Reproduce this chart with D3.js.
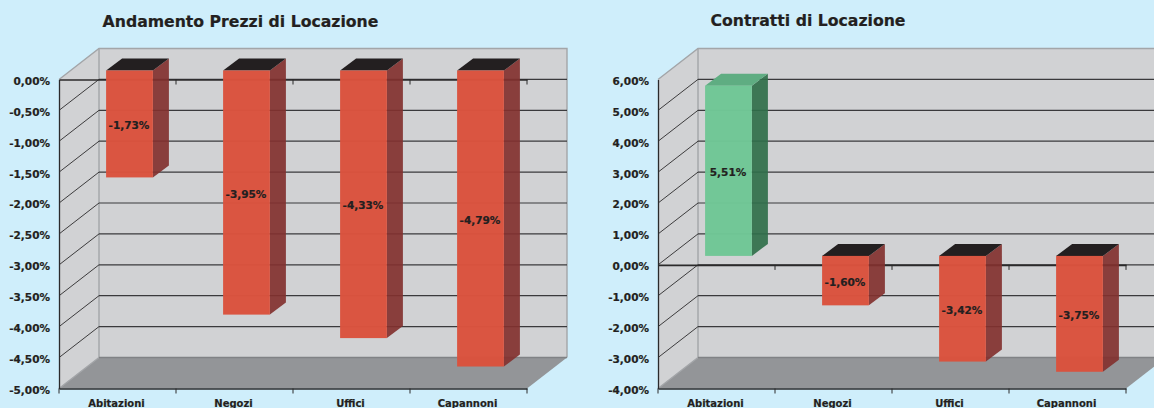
<!DOCTYPE html>
<html>
<head>
<meta charset="utf-8">
<script src="https://cdnjs.cloudflare.com/ajax/libs/d3/7.8.5/d3.min.js"></script>
<style>
html,body{margin:0;padding:0;background:#CFEEFB;overflow:hidden}
svg{display:block}
text{font-family:"DejaVu Sans",sans-serif;font-weight:bold;fill:#231F20;stroke:#231F20;stroke-width:0.2px}
</style>
</head>
<body>
<svg id="c" width="1154" height="408"></svg>
<script>
const categories = ["Abitazioni", "Negozi", "Uffici", "Capannoni"];
const titleLeft = "Andamento Prezzi di Locazione";
const valuesLeft = [-1.73, -3.95, -4.33, -4.79];
const ticksLeft = [0, -0.5, -1, -1.5, -2, -2.5, -3, -3.5, -4, -4.5, -5];
const titleRight = "Contratti di Locazione";
const valuesRight = [5.51, -1.60, -3.42, -3.75];
const ticksRight = [6, 5, 4, 3, 2, 1, 0, -1, -2, -3, -4];

const svg = d3.select("#c");
const fmt = v => v.toFixed(2).replace(".", ",") + "%";
const C = {wall:"#D1D2D4", floor:"#939598", edge:"#A3A5A8", line:"#2B2A2B",
  redF:"#D9523E", redS:"#82312F", redT:"#231F20",
  grnF:"#70C695", grnS:"#306F4A", grnT:"#5FAD82"};

function chart(o){
  const g = svg.append("g");
  const DX = 40, DY = -31, BX = 12, BY = -9, SX = 16, SY = -12;
  const y = d3.scaleLinear().domain([o.ticks[0], o.ticks[o.ticks.length-1]]).range([79.5, 388.5]);
  const x = d3.scaleBand().domain(categories).range([o.x0, o.x0 + 468]).paddingInner(0).paddingOuter(0);
  const xL = o.x0, xR = o.x0 + 468, yT = y.range()[0], yB = y.range()[1];
  const pts = a => a.map(p => p.join(",")).join(" ");

  // walls and floor
  g.append("polygon").attr("points", pts([[xL,yT],[xL+DX,yT+DY],[xL+DX,yB+DY],[xL,yB]])).attr("fill", C.wall);
  g.append("rect").attr("x", xL+DX).attr("y", yT+DY).attr("width", 468).attr("height", yB-yT).attr("fill", C.wall);
  g.append("polygon").attr("points", pts([[xL,yB],[xR,yB],[xR+DX,yB+DY],[xL+DX,yB+DY]])).attr("fill", C.floor);

  // wall edges
  const edge = g.append("g").attr("fill","none").attr("stroke",C.edge).attr("stroke-width",1.4);
  edge.append("polyline").attr("points", pts([[xL,yT],[xL+DX,yT+DY],[xR+DX,yT+DY],[xR+DX,yB+DY]]));
  edge.append("line").attr("x1",xL+DX).attr("x2",xL+DX).attr("y1",yT+DY).attr("y2",yB+DY);
  edge.append("line").attr("x1",xL).attr("x2",xL+DX).attr("y1",yB).attr("y2",yB+DY);
  g.append("line").attr("x1",xL+DX).attr("x2",xR+DX).attr("y1",yB+DY).attr("y2",yB+DY).attr("stroke","#808285").attr("stroke-width",1.4);

  // gridlines
  o.ticks.slice(0,-1).forEach(t => {
    const yy = y(t);
    if (t !== o.ticks[0]) {
      g.append("line").attr("x1",xL).attr("y1",yy).attr("x2",xL+DX).attr("y2",yy+DY)
        .attr("stroke",C.line).attr("stroke-width",0.9);
      g.append("line").attr("x1",xL+DX).attr("y1",yy+DY).attr("x2",xR+DX).attr("y2",yy+DY)
        .attr("stroke","#3a3a3c").attr("stroke-width",1.2);
    }
  });

  // zero axis with ticks
  const zero = g.append("g").attr("transform", `translate(0,${y(0)})`)
    .call(d3.axisBottom(x).tickValues([]).tickSize(0));
  zero.select(".domain").attr("stroke",C.line).attr("stroke-width",o.zeroW);
  x.domain().forEach((c,i) => {
    g.append("line").attr("x1",x(c)+x.bandwidth()).attr("x2",x(c)+x.bandwidth())
      .attr("y1",y(0)).attr("y2",y(0)+5).attr("stroke",C.line).attr("stroke-width",1);
  });

  // bars
  const barW = x.bandwidth()*0.4;
  categories.forEach((c,i) => {
    const v = o.values[i], pos = v > 0;
    const bx = x(c) + x.bandwidth()/2 - barW/2 + BX;
    const base = y(0) + BY;
    const tip = base + (y(v) - y(0));
    const top = Math.min(base, tip), bot = Math.max(base, tip);
    const b = g.append("g");
    b.append("polygon").attr("points", pts([[bx+barW,top],[bx+barW+SX,top+SY],[bx+barW+SX,bot+SY],[bx+barW,bot]]))
      .attr("fill", pos?C.grnS:C.redS).attr("fill-opacity",0.92);
    b.append("polygon").attr("points", pts([[bx,top],[bx+barW,top],[bx+barW+SX,top+SY],[bx+SX,top+SY]]))
      .attr("fill", pos?C.grnT:C.redT);
    b.append("rect").attr("x",bx).attr("y",top).attr("width",barW).attr("height",bot-top)
      .attr("fill", pos?C.grnF:C.redF).attr("fill-opacity",0.985);
    g.append("text").attr("x",bx+barW/2-0.5).attr("y",(top+bot)/2+5).attr("text-anchor","middle")
      .attr("font-size",10.5).text(fmt(v));
  });

  // left value axis
  const ay = g.append("g").attr("transform",`translate(${xL},1.5)`)
    .call(d3.axisLeft(y).tickValues(o.ticks).tickFormat(fmt).tickSize(0).tickPadding(9));
  ay.select(".domain").attr("stroke",C.line).attr("stroke-width",1.3).attr("transform","translate(0,-1.5)");
  ay.selectAll("text").attr("font-size",10.5).style("font-family",'"DejaVu Sans",sans-serif').style("font-weight","bold").attr("fill","#231F20");

  // bottom category axis
  const ax = g.append("g").attr("transform",`translate(0,${yB})`)
    .call(d3.axisBottom(x).tickValues([]).tickSize(0));
  ax.select(".domain").attr("stroke",C.line).attr("stroke-width",1.3);
  [xL].concat(categories.map(c => x(c)+x.bandwidth())).forEach(px => {
    g.append("line").attr("x1",px).attr("x2",px).attr("y1",yB).attr("y2",yB+5).attr("stroke",C.line).attr("stroke-width",1);
  });
  categories.forEach(c => {
    g.append("text").attr("x",x(c)+x.bandwidth()/2-1).attr("y",406.5).attr("text-anchor","middle")
      .attr("font-size",10).text(c);
  });

  g.append("text").attr("x",o.titleX).attr("y",o.titleY).attr("text-anchor","middle")
    .attr("font-size",15.7).text(o.title);
}

chart({x0:59, values:valuesLeft, ticks:ticksLeft, title:titleLeft, titleX:240.5, titleY:27, zeroW:1.3});
chart({x0:658, values:valuesRight, ticks:ticksRight, title:titleRight, titleX:808, titleY:26, zeroW:1.8});
</script>
</body>
</html>
